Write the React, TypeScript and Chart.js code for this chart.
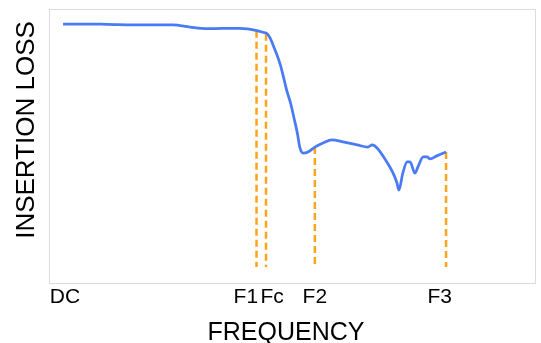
import React, { useEffect, useRef } from "react";
import { Chart, registerables } from "chart.js";

Chart.register(...registerables);

// Frequency (arbitrary units, 0..100) and insertion-loss curve (arbitrary units, 0..100)
const freq = [
  2.9, 7.4, 11.9, 18.7, 25.5, 29.0, 32.5, 35.8, 39.3, 42.8, 44.0, 44.9, 45.5, 46.1,
  47.0, 47.6, 48.3, 48.9, 49.7, 50.5, 51.1, 51.6, 52.3, 53.3, 54.7, 56.4, 58.2,
  60.5, 63.4, 65.6, 66.5, 67.5, 69.5, 70.8, 71.6, 72.0, 72.8, 73.7, 74.3, 75.3,
  75.9, 77.0, 77.8, 78.4, 79.8, 81.7,
];
const loss = [
  94.5, 94.5, 94.4, 94.2, 94.2, 93.4, 92.8, 92.9, 92.9, 92.1, 91.5, 91.0, 89.4, 86.9,
  82.8, 79.6, 74.8, 70.4, 65.7, 59.5, 54.7, 49.6, 47.4, 47.8, 49.6, 51.1, 52.2,
  51.5, 50.4, 49.6, 50.4, 49.3, 44.2, 40.1, 36.5, 33.9, 40.1, 44.2, 44.2, 40.1,
  42.3, 46.0, 46.0, 45.3, 46.4, 47.8,
];

// Marker (dashed) lines
const markerX = [42.7, 44.65, 54.7, 81.7];
const markerTop = [92.1, 91.0, 49.6, 47.8];
const markerBottom = 5.8;

// Tick labels and where they sit along the frequency axis
const tickLabels = ["DC", "F1", "Fc", "F2", "F3"];
const tickX = [3.3, 40.5, 45.9, 54.7, 80.4];

const xTitle = "FREQUENCY";
const yTitle = "INSERTION LOSS";

const BLUE = "#4a7bf5";
const ORANGE = "#ffa31a";
const FONT = "'Liberation Sans', Arial, sans-serif";

const decorPlugin = {
  id: "decor",
  beforeDatasetsDraw(chart: any) {
    const { ctx, chartArea } = chart;
    ctx.save();
    ctx.strokeStyle = "#dcdcdc";
    ctx.lineWidth = 1;
    ctx.strokeRect(
      chartArea.left + 0.5,
      chartArea.top + 0.5,
      chartArea.right - chartArea.left,
      chartArea.bottom - chartArea.top
    );
    ctx.restore();
  },
  afterDraw(chart: any) {
    const { ctx, chartArea } = chart;
    const xs = chart.scales.x;
    ctx.save();
    ctx.fillStyle = "#000";
    ctx.textBaseline = "alphabetic";
    ctx.textAlign = "center";
    ctx.font = `21px ${FONT}`;
    tickLabels.forEach((t, i) => {
      ctx.fillText(t, xs.getPixelForValue(tickX[i]), chartArea.bottom + 19.5);
    });
    ctx.font = `25px ${FONT}`;
    ctx.fillText(xTitle, (chartArea.left + chartArea.right) / 2 - 6, chartArea.bottom + 57);
    ctx.translate(34, 130);
    ctx.rotate(-Math.PI / 2);
    ctx.font = `26px ${FONT}`;
    ctx.fillText(yTitle, 0, 0);
    ctx.restore();
  },
};

export default function App() {
  const ref = useRef<HTMLCanvasElement | null>(null);
  useEffect(() => {
    document.body.style.margin = "0";
    const canvas = ref.current!;
    const markerSets = markerX.map((x, i) => ({
      data: [
        { x, y: markerTop[i] },
        { x, y: markerBottom },
      ],
      borderColor: ORANGE,
      borderWidth: 2.5,
      borderDash: [7, 4],
      pointRadius: 0,
      order: 2,
    }));
    const chart = new Chart(canvas, {
      type: "line",
      data: {
        datasets: [
          {
            data: freq.map((f, i) => ({ x: f, y: loss[i] })),
            borderColor: BLUE,
            borderWidth: 2.75,
            pointRadius: 0,
            cubicInterpolationMode: "monotone",
            order: 1,
          },
          ...markerSets,
        ],
      },
      options: {
        responsive: false,
        animation: false,
        events: [],
        layout: { padding: { left: 49, top: 9, right: 6, bottom: 60 } },
        plugins: { legend: { display: false }, tooltip: { enabled: false } },
        scales: {
          x: { type: "linear", min: 0, max: 100, display: false },
          y: { type: "linear", min: 0, max: 100, display: false },
        },
      },
      plugins: [decorPlugin],
    });
    return () => chart.destroy();
  }, []);
  return <canvas ref={ref} width={541} height={343} style={{ display: "block" }} />;
}
